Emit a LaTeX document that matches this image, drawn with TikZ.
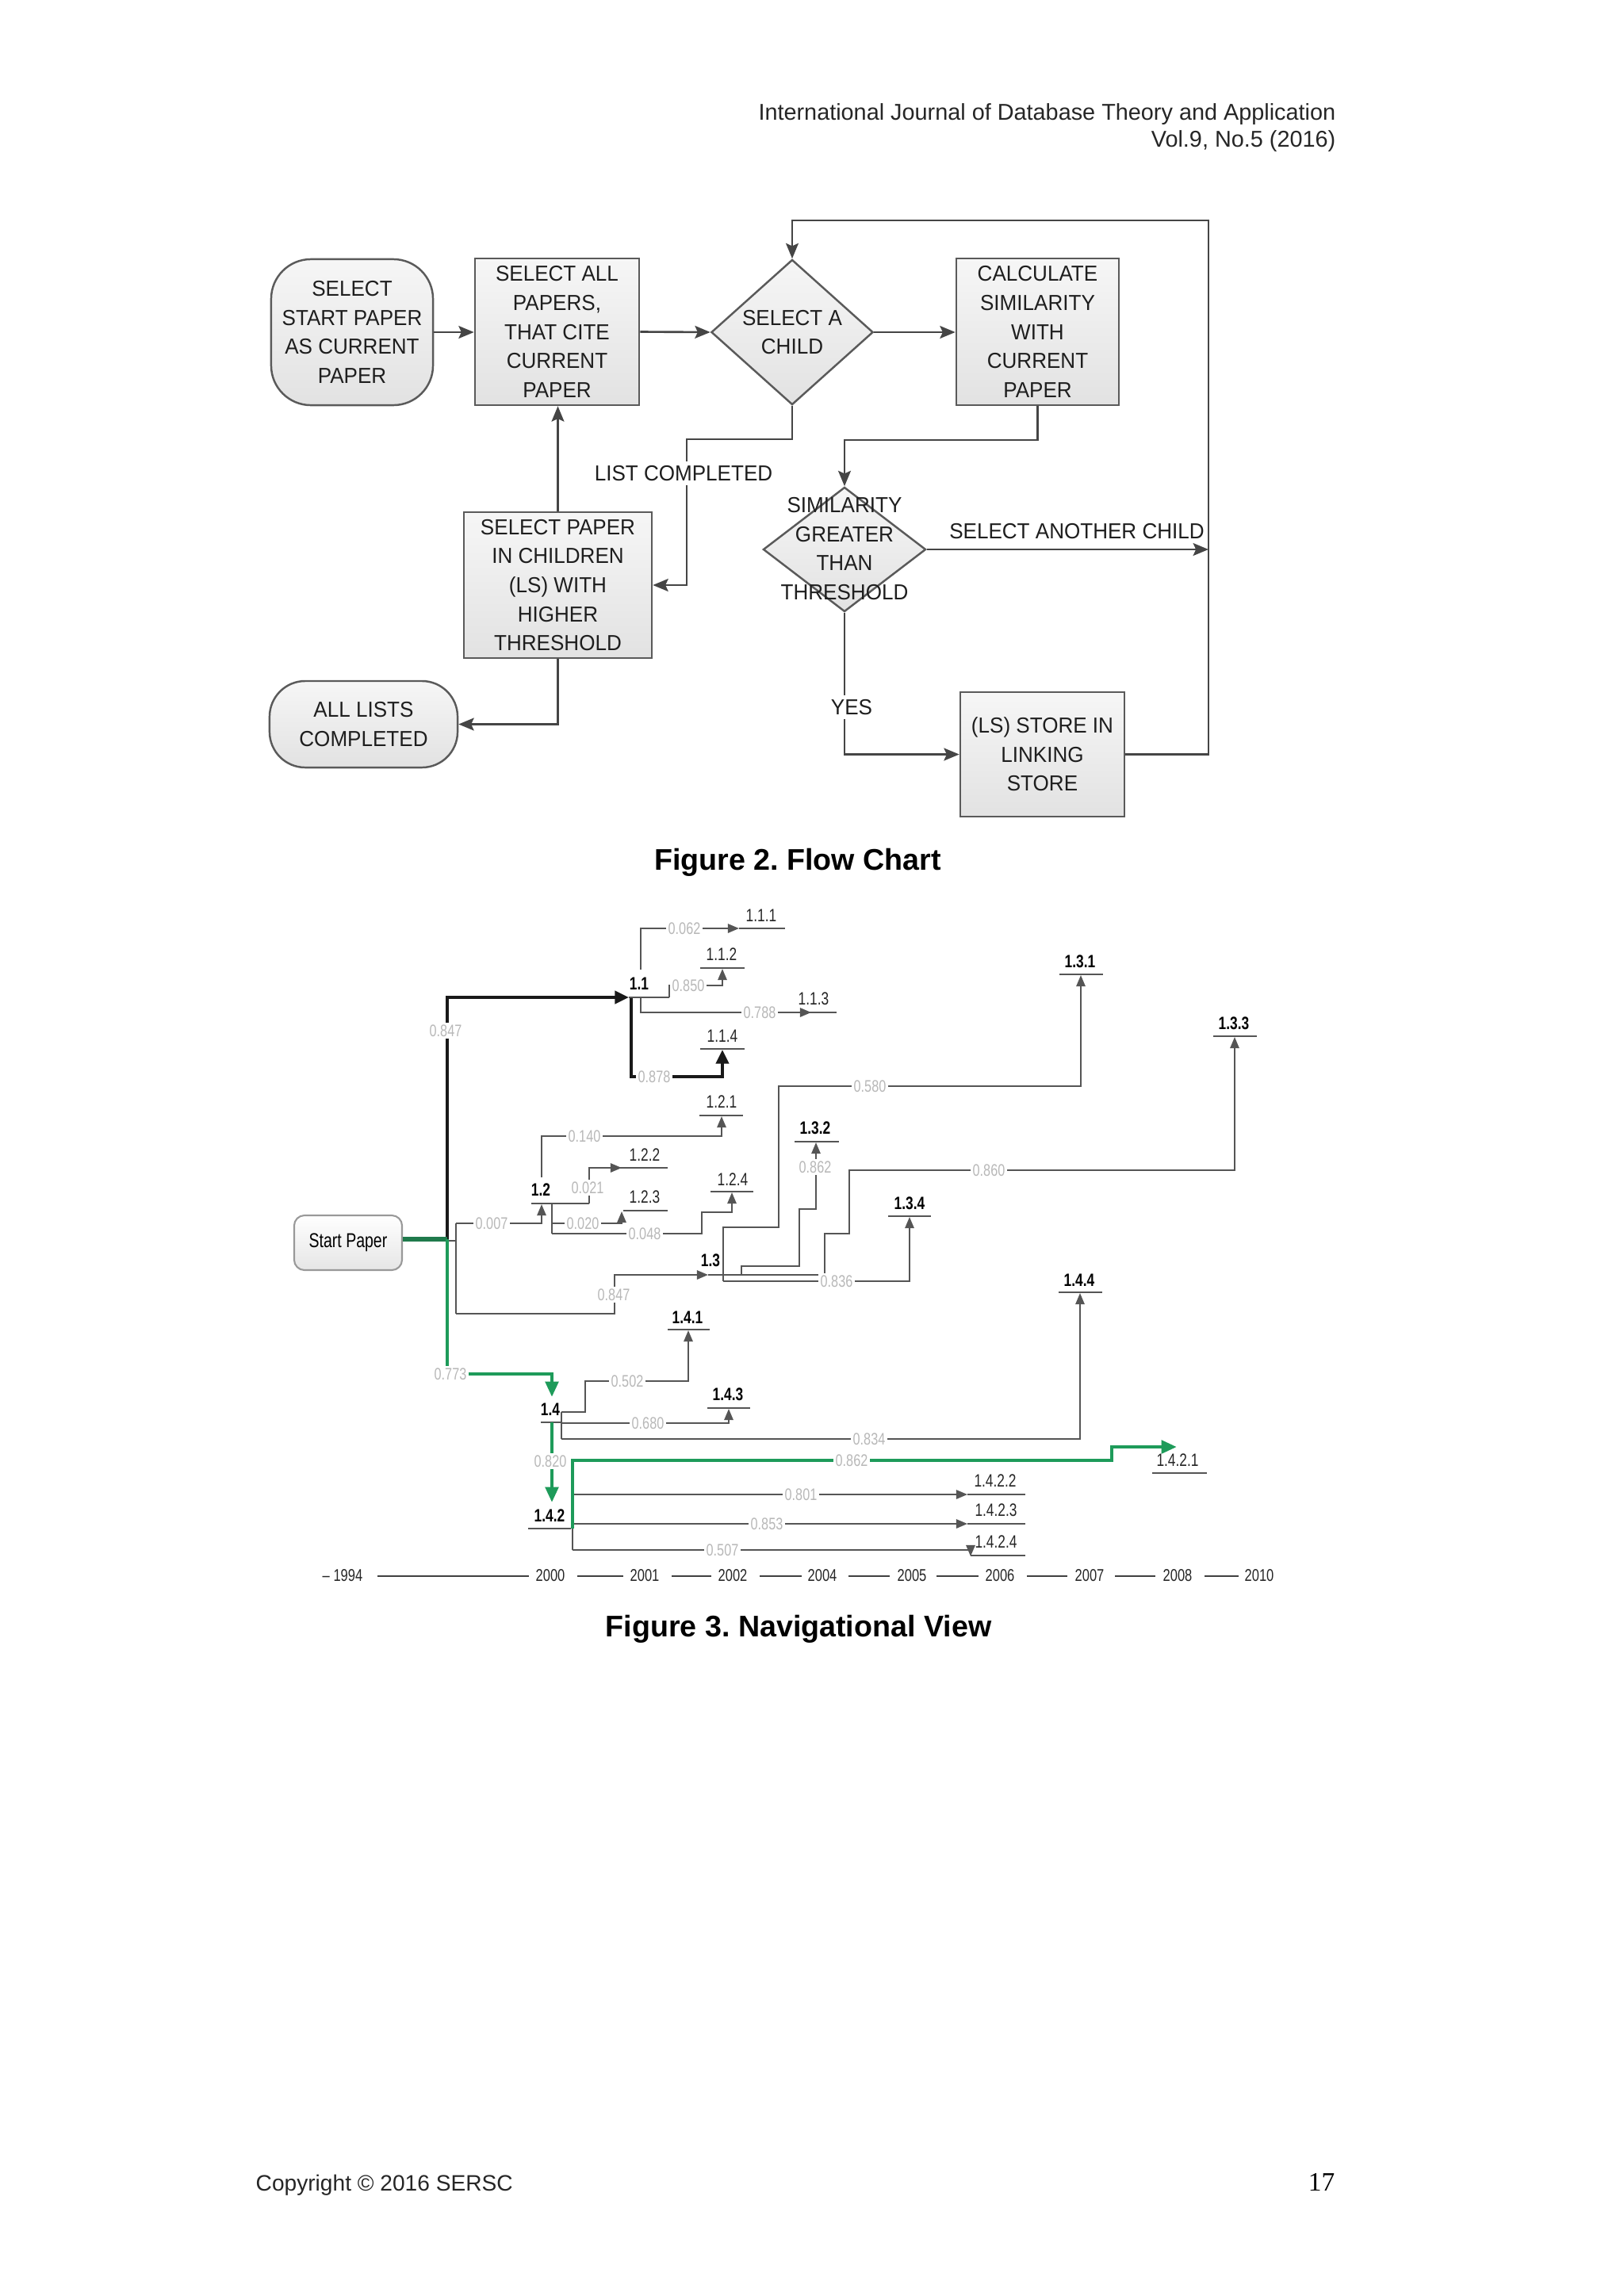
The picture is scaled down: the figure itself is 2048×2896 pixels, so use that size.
\documentclass[tikz,border=0pt]{standalone}
\usepackage{fontspec}
\setmainfont{Liberation Sans}
\newfontfamily\fcfont[FakeStretch=0.95]{Liberation Sans}
\newfontfamily\nvfont[FakeStretch=0.77]{Liberation Sans}
\newfontfamily\pgfont{Liberation Serif}
\usetikzlibrary{arrows.meta,shapes.geometric}
\frenchspacing
\definecolor{fcdraw}{HTML}{5A5A5A}
\definecolor{fcline}{HTML}{454545}
\definecolor{fctop}{HTML}{F6F6F6}
\definecolor{fcbot}{HTML}{E2E2E2}
\definecolor{fctxt}{HTML}{1E1E1E}
\definecolor{nvgray}{HTML}{555555}
\definecolor{nvw}{HTML}{B8B8B8}
\definecolor{nvgreen}{HTML}{1E9B5A}
\definecolor{nvdkgreen}{HTML}{1F7A4C}
\tikzset{
  fctext/.style={font=\fcfont\fontsize{7.8}{10.4}\selectfont, align=center, text=fctxt, inner sep=0pt},
  fcbox/.style={fctext, draw=fcdraw, line width=0.7pt, top color=fctop, bottom color=fcbot},
  fcterm/.style={fcbox, rounded corners=0.5cm},
  fcdia/.style={diamond, draw=fcdraw, line width=0.7pt, top color=fctop, bottom color=fcbot, inner sep=0pt},
  fcarrow/.style={draw=fcline, line width=0.75pt, -{Stealth[length=5.5pt,width=4.5pt,inset=1pt]}},
  fcplain/.style={draw=fcline, line width=0.75pt},
  fclab/.style={fctext, fill=white, inner sep=1.5pt},
  nvline/.style={draw=nvgray, line width=0.6pt},
  nvarr/.style={nvline, -{Triangle[length=4pt,width=3.2pt]}},
  nvblk/.style={draw=black!90, line width=1.2pt},
  nvblkarr/.style={nvblk, -{Triangle[length=5pt,width=4.5pt]}},
  nvgrn/.style={draw=nvgreen, line width=1.3pt},
  nvgrnarr/.style={nvgrn, -{Triangle[length=5.5pt,width=4.6pt]}},
  wl/.style={font=\nvfont\fontsize{6}{6}\selectfont, text=nvw, fill=white, inner sep=0.8pt},
  nl/.style={font=\nvfont\fontsize{6.4}{7}\selectfont, inner sep=0pt, text=black!85},
  nb/.style={font=\nvfont\bfseries\fontsize{6.4}{7}\selectfont, inner sep=0pt, text=black},
  yl/.style={font=\nvfont\fontsize{6.1}{7}\selectfont, text=black!85, inner sep=0pt},
  tl/.style={draw=black!75, line width=0.5pt},
}
\begin{document}
\begin{tikzpicture}[x=0.01cm,y=-0.01cm]
\path[use as bounding box, fill=white] (0,0) rectangle (2048,2896);

% ---------- header ----------
\node[anchor=base east, inner sep=0pt, font=\fontsize{8.2}{10}\selectfont, text=black!85] (hdr1) at (1685,151) {International Journal of Database Theory and Application};
\node[anchor=base east, inner sep=0pt, font=\fontsize{8.2}{10}\selectfont, text=black!85] (hdr2) at (1685,185) {Vol.9, No.5 (2016)};

% ---------- Figure 2: flow chart ----------
\node[fcterm, minimum width=2.04cm, minimum height=1.84cm] (start) at (444,419) {SELECT\\START PAPER\\AS CURRENT\\PAPER};
\node[fcbox, minimum width=2.07cm, minimum height=1.85cm] (selall) at (702.5,418.5) {SELECT ALL\\PAPERS,\\THAT CITE\\CURRENT\\PAPER};
\node[fcdia, minimum width=2.04cm, minimum height=1.83cm] (child) at (999,419) {};
\node[fctext] (childtxt) at (999,419) {SELECT A\\CHILD};
\node[fcbox, minimum width=2.05cm, minimum height=1.85cm] (calc) at (1308.5,418.5) {CALCULATE\\SIMILARITY\\WITH\\CURRENT\\PAPER};
\node[fcdia, minimum width=2.05cm, minimum height=1.57cm] (simil) at (1065,693) {};
\node[fctext] (similtxt) at (1065,692) {SIMILARITY\\GREATER\\THAN\\THRESHOLD};
\node[fcbox, minimum width=2.37cm, minimum height=1.84cm] (selpap) at (703.5,738) {SELECT PAPER\\IN CHILDREN\\(LS) WITH\\HIGHER\\THRESHOLD};
\node[fcterm, rounded corners=0.45cm, minimum width=2.37cm, minimum height=1.09cm] (alll) at (458.5,913.5) {ALL LISTS\\COMPLETED};
\node[fcbox, minimum width=2.07cm, minimum height=1.57cm] (store) at (1314.5,951.5) {(LS) STORE IN\\LINKING\\STORE};

\coordinate (rtop) at (1524,278);
\coordinate (rbot) at (1524,951.5);
\coordinate (rmid) at (1524,693);
\coordinate (lcA) at (866,554);
\coordinate (lcB) at (866,738);
\coordinate (smA) at (1065,555);

\draw[fcarrow] (start.east) -- (start.east -| selall.west);
\draw[fcarrow] (selall.east) -- (child.west);
\draw[fcarrow] (child.east) -- (child.east -| calc.west);
\draw[fcarrow] (store.east) -- (rbot) -- (rtop) -| (child.north);
\draw[fcarrow] (child.south) |- (lcA) -- (lcB) -- (selpap.east);
\draw[fcarrow] (calc.south) |- (smA) -- (simil.north);
\draw[fcarrow] (simil.east) -- (rmid);
\draw[fcarrow] (simil.south) |- (store.west);
\draw[fcarrow] (selpap.north) -- (selpap.north |- selall.south);
\draw[fcarrow] (selpap.south) |- (alll.east);

\node[fclab] (lc) at (862,597) {LIST COMPLETED};
\node[fctext] (sac) at (1358,670) {SELECT ANOTHER CHILD};
\node[fclab] (yes) at (1074,892) {YES};

\node[anchor=base, inner sep=0pt, font=\bfseries\fontsize{10.7}{12}\selectfont] (cap2) at (1006,1097) {Figure 2. Flow Chart};

% ---------- Figure 3: navigational view ----------
\node[draw=black!40, line width=0.6pt, rounded corners=0.13cm, top color=white, bottom color=black!10,
      minimum width=1.36cm, minimum height=0.69cm, inner sep=0pt,
      font=\nvfont\fontsize{7.2}{8}\selectfont] (sp) at (439,1567.5) {Start Paper};

% thick black path to 1.1 and 1.1.4
\draw[nvblkarr] (564,1565) -- (564,1258) -- (793,1258);
\draw[nvblkarr] (796,1258) -- (796,1358) -- (911,1358) -- (911,1324);

% 1.1 children
\draw[nvline] (793,1258) -- (844,1258);
\draw[nvarr] (808,1223) |- (932,1171);
\draw[nvarr] (844,1258) -- (844,1243) -- (911,1243) -- (911,1222);
\draw[nvarr] (808,1258) -- (808,1277) -- (1023,1277);

% 1.2 branch
\draw[nvline] (564,1565) -- (575,1565);
\draw[nvline] (575,1543) -- (575,1657);
\draw[nvarr] (575,1543) -- (683,1543) -- (683,1519);
\draw[nvline] (670,1518) -- (743,1518);
\draw[nvarr] (683,1485) -- (683,1433) -- (910,1433) -- (910,1408);
\draw[nvarr] (743,1518) -- (743,1473) -- (784,1473);
\draw[nvline] (696,1518) -- (696,1556);
\draw[nvarr] (696,1543) -- (784,1543) -- (784,1528);
\draw[nvarr] (696,1556) -- (885,1556) -- (885,1529) -- (923,1529) -- (923,1504);

% 1.3 branch
\draw[nvarr] (575,1657) -- (775,1657) -- (775,1608) -- (893,1608);
\draw[nvline] (893,1608) -- (1040,1608);
\draw[nvarr] (912,1616) -- (912,1548) -- (982,1548) -- (982,1370) -- (1363,1370) -- (1363,1230);
\draw[nvarr] (912,1616) -- (1147,1616) -- (1147,1535);
\draw[nvarr] (935,1608) -- (935,1597) -- (1008,1597) -- (1008,1525) -- (1029,1525) -- (1029,1441);
\draw[nvarr] (1040,1608) -- (1040,1556) -- (1071,1556) -- (1071,1476) -- (1557,1476) -- (1557,1308);

% 1.4 branch
\draw[nvline] (682,1794) -- (708,1794);
\draw[nvarr] (708,1781) -- (738,1781) -- (738,1742) -- (868,1742) -- (868,1678);
\draw[nvline] (708,1781) -- (708,1815);
\draw[nvarr] (708,1795) -- (919,1795) -- (919,1777);
\draw[nvarr] (708,1815) -- (1362,1815) -- (1362,1631);

% 1.4.2 branch
\draw[nvline] (666,1928) -- (720,1928);
\draw[nvline] (722,1842) -- (722,1955);
\draw[nvarr] (722,1885) -- (1220,1885);
\draw[nvarr] (722,1922) -- (1220,1922);
\draw[nvline] (722,1955) -- (1224,1955);
\draw[nvarr] (1224,1950) -- (1224,1963);

% green path
\draw[draw=nvdkgreen, line width=1.6pt] (sp.east |- 0,1563) -- (564,1563);
\draw[nvgrnarr] (564,1563) -- (564,1733) -- (696,1733) -- (696,1762);
\draw[nvgrnarr] (696,1794) -- (696,1895);
\draw[nvgrnarr] (722,1928) -- (722,1842) -- (1402,1842) -- (1402,1825) -- (1484,1825);

% underlines
\foreach \y/\a/\b in {1171/932/990, 1221/883/939, 1277/997/1055, 1323/883/939,
  1407/882/937, 1473/776/842, 1527/786/842, 1503/896/950,
  1229/1336/1391, 1440/1002/1058, 1307/1530/1585, 1534/1120/1174,
  1677/842/895, 1776/892/946, 1630/1335/1390,
  1858/1453/1522, 1885/1220/1293, 1922/1220/1293, 1962/1224/1293}
  \draw[nvline] (\a,\y) -- (\b,\y);

% node labels
\node[nb] (n11) at (806,1241) {1.1};
\node[nb] (n12) at (682,1501) {1.2};
\node[nb] (n13) at (896,1590) {1.3};
\node[nb] (n14) at (694,1778) {1.4};
\node[nb] (n142) at (693,1912) {1.4.2};
\node[nb] (n131) at (1362,1213) {1.3.1};
\node[nb] (n132) at (1028,1423) {1.3.2};
\node[nb] (n133) at (1556,1291) {1.3.3};
\node[nb] (n134) at (1147,1518) {1.3.4};
\node[nb] (n141) at (867,1662) {1.4.1};
\node[nb] (n143) at (918,1759) {1.4.3};
\node[nb] (n144) at (1361,1615) {1.4.4};
\node[nl] (n111) at (960,1155) {1.1.1};
\node[nl] (n112) at (910,1204) {1.1.2};
\node[nl] (n113) at (1026,1260) {1.1.3};
\node[nl] (n114) at (911,1307) {1.1.4};
\node[nl] (n121) at (910,1390) {1.2.1};
\node[nl] (n122) at (813,1457) {1.2.2};
\node[nl] (n123) at (813,1510) {1.2.3};
\node[nl] (n124) at (924,1488) {1.2.4};
\node[nl] (n1421) at (1485,1842) {1.4.2.1};
\node[nl] (n1422) at (1255,1868) {1.4.2.2};
\node[nl] (n1423) at (1256,1905) {1.4.2.3};
\node[nl] (n1424) at (1256,1945) {1.4.2.4};

% weight labels
\node[wl] (w1) at (863,1171) {0.062};
\node[wl] (w2) at (868,1243) {0.850};
\node[wl] (w3) at (958,1277) {0.788};
\node[wl] (w4) at (825,1358) {0.878};
\node[wl] (w5) at (562,1300) {0.847};
\node[wl] (w6) at (1097,1370) {0.580};
\node[wl] (w7) at (737,1433) {0.140};
\node[wl] (w8) at (741,1498) {0.021};
\node[wl] (w9) at (1028,1472) {0.862};
\node[wl] (w10) at (620,1543) {0.007};
\node[wl] (w11) at (735,1543) {0.020};
\node[wl] (w12) at (813,1556) {0.048};
\node[wl] (w13) at (1247,1476) {0.860};
\node[wl] (w14) at (1055,1616) {0.836};
\node[wl] (w15) at (774,1633) {0.847};
\node[wl] (w16) at (568,1733) {0.773};
\node[wl] (w17) at (791,1742) {0.502};
\node[wl] (w18) at (817,1795) {0.680};
\node[wl] (w19) at (1096,1815) {0.834};
\node[wl] (w20) at (694,1843) {0.820};
\node[wl] (w21) at (1074,1842) {0.862};
\node[wl] (w22) at (1010,1885) {0.801};
\node[wl] (w23) at (967,1922) {0.853};
\node[wl] (w24) at (911,1955) {0.507};

% timeline
\node[yl] (y94) at (432,1987) {– 1994};
\node[yl] (y00) at (694,1987) {2000};
\node[yl] (y01) at (813,1987) {2001};
\node[yl] (y02) at (924,1987) {2002};
\node[yl] (y04) at (1037,1987) {2004};
\node[yl] (y05) at (1150,1987) {2005};
\node[yl] (y06) at (1261,1987) {2006};
\node[yl] (y07) at (1374,1987) {2007};
\node[yl] (y08) at (1485,1987) {2008};
\node[yl] (y10) at (1588,1987) {2010};
\foreach \a/\b in {476/667, 728/786, 847/897, 958/1011, 1070/1122, 1181/1234, 1295/1346, 1406/1457, 1519/1562}
  \draw[tl] (\a,1988) -- (\b,1988);

\node[anchor=base, inner sep=0pt, font=\bfseries\fontsize{10.7}{12}\selectfont] (cap3) at (1007,2064) {Figure 3. Navigational View};

% ---------- footer ----------
\node[anchor=base west, inner sep=0pt, font=\fontsize{8}{10}\selectfont, text=black!85] (copy) at (322,2763) {Copyright © 2016 SERSC};
\node[anchor=base east, inner sep=0pt, font=\pgfont\fontsize{9.5}{11}\selectfont] (pg) at (1684,2763) {17};
\end{tikzpicture}
\end{document}
